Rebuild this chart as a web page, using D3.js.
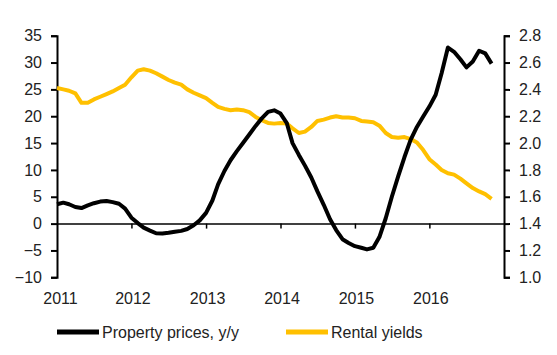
<!DOCTYPE html>
<html>
<head>
<meta charset="utf-8">
<script src="https://cdn.jsdelivr.net/npm/d3@7"></script>
<style>
  html, body { margin: 0; padding: 0; background: #fff; }
  svg { display: block; font-family: "Liberation Sans", Arial, sans-serif; }
</style>
</head>
<body>
<svg id="chart" width="557" height="355"></svg>
<script>
// ---- Data (monthly, Jan 2011 .. Nov 2016) ----
const startMonth = "2011-01";
const endMonth = "2016-12"; // exclusive
const propertyPrices = [
  3.6, 3.9, 3.6, 3.1, 2.9, 3.4, 3.8, 4.1, 4.2, 4.0, 3.7, 2.8,
  1.1, 0.1, -0.75, -1.3, -1.8, -1.85, -1.7, -1.5, -1.35, -1.0, -0.3, 0.6,
  2.0, 4.3, 7.3, 9.8, 11.8, 13.5, 15.0, 16.6, 18.2, 19.6, 20.8, 21.1,
  20.5, 18.7, 15.0, 12.8, 10.8, 8.6, 6.0, 3.5, 0.8, -1.2, -2.9, -3.6,
  -4.2, -4.5, -4.8, -4.5, -2.5, 1.0, 5.0, 8.8, 12.4, 15.6, 18.0, 19.9,
  21.8, 24.0, 28.0, 32.8, 32.0, 30.6, 29.1, 30.2, 32.2, 31.7, 29.8
];
const rentalYields = [
  2.41, 2.40, 2.39, 2.37, 2.30, 2.30, 2.325, 2.345, 2.365, 2.385, 2.41, 2.435,
  2.49, 2.54, 2.55, 2.54, 2.52, 2.495, 2.47, 2.45, 2.435, 2.40, 2.375, 2.355,
  2.335, 2.30, 2.27, 2.255, 2.245, 2.25, 2.245, 2.23, 2.195, 2.17, 2.15, 2.145,
  2.15, 2.145, 2.11, 2.075, 2.085, 2.12, 2.165, 2.175, 2.19, 2.20, 2.19, 2.19,
  2.185, 2.165, 2.16, 2.155, 2.13, 2.075, 2.045, 2.04, 2.045, 2.03, 2.005, 1.95,
  1.88, 1.84, 1.80, 1.775, 1.765, 1.735, 1.70, 1.665, 1.64, 1.62, 1.585
];
const yearLabels = ["2011", "2012", "2013", "2014", "2015", "2016"];
const leftTicks = [-10, -5, 0, 5, 10, 15, 20, 25, 30, 35];
const rightTicks = [1.0, 1.2, 1.4, 1.6, 1.8, 2.0, 2.2, 2.4, 2.6, 2.8];
const seriesNames = ["Property prices, y/y", "Rental yields"];
const seriesColors = ["#000000", "#FFC000"];

// ---- Layout ----
const X0 = 57, X1 = 504, Y0 = 35.7, Y1 = 277.3;
const parse = d3.timeParse("%Y-%m");
const months = d3.timeMonth.range(parse(startMonth), parse(endMonth));

const x = d3.scaleTime().domain([parse("2011-01"), parse("2017-01")]).range([X0, X1]);
const yL = d3.scaleLinear().domain([-10, 35]).range([Y1, Y0]);
const yR = d3.scaleLinear().domain([1.0, 2.8]).range([Y1, Y0]);

const svg = d3.select("#chart");

// Zero line / x axis with ticks
const xTickDates = yearLabels.slice(1).map(y => parse(y + "-01"));
svg.append("g")
  .attr("transform", `translate(0,${yL(0)})`)
  .call(d3.axisBottom(x).tickValues(xTickDates).tickFormat("").tickSize(5).tickSizeOuter(0))
  .call(g => g.selectAll("path, line").attr("stroke", "#000").attr("stroke-width", 1.5));

// Year labels at the bottom
svg.append("g")
  .attr("transform", `translate(0,${Y1})`)
  .call(d3.axisBottom(x).tickValues(yearLabels.map(y => parse(y + "-01"))).tickFormat(d3.timeFormat("%Y")).tickSize(0).tickPadding(15))
  .call(g => g.select(".domain").remove())
  .call(g => g.selectAll("text").attr("font-size", 16).attr("fill", "#222")
    .attr("font-family", "Liberation Sans, Arial, sans-serif")
    .attr("dx", (d, i) => i === 0 ? 3 : 1));

// Left axis
svg.append("g")
  .attr("transform", `translate(${X0},0)`)
  .call(d3.axisLeft(yL).tickValues(leftTicks).tickFormat(d3.format("d")).tickSize(6).tickPadding(9))
  .call(g => g.selectAll("path, line").attr("stroke", "#000").attr("stroke-width", 2))
  .call(g => g.selectAll("text").attr("font-size", 16).attr("fill", "#222")
    .attr("font-family", "Liberation Sans, Arial, sans-serif"));

// Right axis
svg.append("g")
  .attr("transform", `translate(${X1},0)`)
  .call(d3.axisRight(yR).tickValues(rightTicks).tickFormat(d3.format(".1f")).tickSize(6).tickPadding(9))
  .call(g => g.selectAll("path, line").attr("stroke", "#000").attr("stroke-width", 2))
  .call(g => g.selectAll("text").attr("font-size", 16).attr("fill", "#222")
    .attr("font-family", "Liberation Sans, Arial, sans-serif"));

// Lines
const lineL = d3.line().x((d, i) => x(months[i])).y(d => yL(d)).curve(d3.curveLinear);
const lineR = d3.line().x((d, i) => x(months[i])).y(d => yR(d)).curve(d3.curveLinear);

svg.append("path").datum(rentalYields)
  .attr("d", lineR).attr("fill", "none").attr("stroke", seriesColors[1])
  .attr("stroke-width", 4).attr("stroke-linejoin", "round").attr("stroke-linecap", "butt");

svg.append("path").datum(propertyPrices)
  .attr("d", lineL).attr("fill", "none").attr("stroke", seriesColors[0])
  .attr("stroke-width", 4).attr("stroke-linejoin", "round").attr("stroke-linecap", "butt");

// Legend
const legendY = 332;
const legendItems = [
  { x1: 57, x2: 99, tx: 102 },
  { x1: 286, x2: 328, tx: 331 }
];
legendItems.forEach((it, i) => {
  svg.append("line").attr("x1", it.x1).attr("x2", it.x2).attr("y1", legendY).attr("y2", legendY)
    .attr("stroke", seriesColors[i]).attr("stroke-width", 5);
  svg.append("text").attr("x", it.tx).attr("y", legendY).attr("dy", "0.35em")
    .attr("font-size", 16).attr("fill", "#222").text(seriesNames[i]);
});
</script>
</body>
</html>
